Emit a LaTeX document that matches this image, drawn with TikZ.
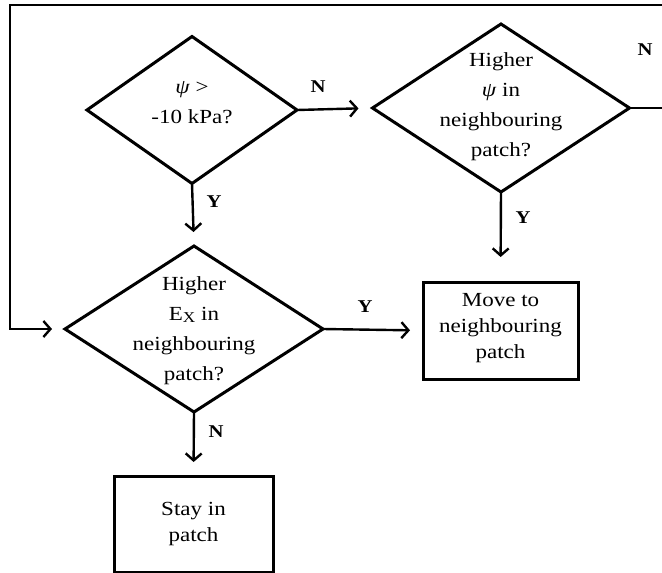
\documentclass[tikz,border=0pt]{standalone}
\usepackage{fontspec}
\setmainfont{Liberation Serif}[FakeStretch=1.15]
\usetikzlibrary{shapes.geometric,arrows.meta}
\begin{document}
\begin{tikzpicture}[x=1pt,y=-1pt,
  dia/.style={diamond, draw, line width=3pt, inner sep=0pt, outer sep=0pt},
  boxnode/.style={rectangle, draw, line width=3pt, inner sep=0pt, outer sep=0pt},
  txt/.style={align=center, font=\fontsize{20}{30}\selectfont, inner sep=0pt},
  btxt/.style={align=center, font=\fontsize{20}{26}\selectfont, inner sep=0pt},
  lbl/.style={font=\fontsize{18}{18}\selectfont\bfseries, inner sep=0pt},
  conn/.style={line width=2.4pt, -{Straight Barb[length=7pt,width=16pt]}}]
\useasboundingbox (0,0) rectangle (662,573);
% decision shapes
\node[dia, minimum width=210pt, minimum height=147pt] (d1) at (192,110) {};
\node[dia, minimum width=257pt, minimum height=168pt] (d2) at (501,108) {};
\node[dia, minimum width=258pt, minimum height=166pt] (d3) at (194,329) {};
% boxes
\node[boxnode, minimum width=155pt, minimum height=97pt] (mv) at (500.5,330.5) {};
\node[boxnode, minimum width=159pt, minimum height=96pt] (st) at (193.5,524) {};
% texts
\node[txt] (t1) at (192,103) {\textit{ψ} >\\-10 kPa?};
\node[txt] (t2) at (501,107) {Higher\\\textit{ψ} in\\neighbouring\\patch?};
\node[txt] (t3) at (194,331) {Higher\\E\raisebox{-1.5pt}{\fontsize{15}{15}\selectfont X} in\\neighbouring\\patch?};
\node[btxt] (t4) at (500.5,328) {Move to\\neighbouring\\patch};
\node[btxt] (t5) at (193.5,524) {Stay in\\patch};
% connectors
\coordinate (c1) at (666,108);
\coordinate (c2) at (666,5);
\coordinate (c3) at (10,5);
\coordinate (c4) at (10,329);
\draw[conn, shorten >=14pt] (d1.east) -- (d2.west);
\draw[conn, shorten >=14pt] (d1.south) -- (d3.north);
\draw[conn, shorten >=25pt] (d2.south) -- (mv.north);
\draw[conn, shorten >=13pt] (d3.east) -- (mv.west);
\draw[conn, shorten >=14pt] (d3.south) -- (st.north);
\draw[conn, shorten >=13pt] (d2.east) -- (c1) -- (c2) -- (c3) -- (c4) -- (d3.west);
% labels
\node[lbl] (l1) at (318,87) {N};
\node[lbl] (l2) at (214,202) {Y};
\node[lbl] (l3) at (645,50) {N};
\node[lbl] (l4) at (523,218) {Y};
\node[lbl] (l5) at (365,307) {Y};
\node[lbl] (l6) at (216,432) {N};
\end{tikzpicture}
\end{document}
